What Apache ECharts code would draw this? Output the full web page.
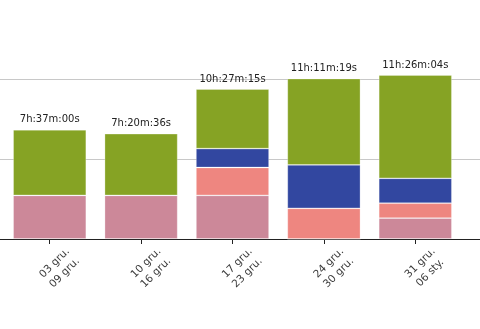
<!DOCTYPE html>
<html>
<head>
<meta charset="utf-8">
<script src="https://cdn.jsdelivr.net/npm/echarts@6/dist/echarts.min.js"></script>
<style>
  html, body { margin: 0; padding: 0; background: #ffffff; }
  #chart { width: 480px; height: 329px; }
</style>
</head>
<body>
<div id="chart"></div>
<script>
// Weekly time totals, in seconds, split into four activity groups.
const weeks = ['03 gru.\n09 gru.', '10 gru.\n16 gru.', '17 gru.\n23 gru.', '24 gru.\n30 gru.', '31 gru.\n06 sty.'];
const totals = [27420, 26436, 37635, 40279, 41164];
const pinkPart = [10950, 10950, 10950, 0, 5240];
const salmonPart = [0, 0, 7000, 7700, 3750];
const bluePart = [0, 0, 4750, 10900, 6250];
// the top (green) segment fills each bar up to its labelled total
const greenPart = totals.map((t, i) => t - pinkPart[i] - salmonPart[i] - bluePart[i]);

// horizontal reference lines across the whole plot
const gridLevels = [20000, 40000];
const yMax = 60000;
const yStep = 20000;

function pad2(n) { return (n < 10 ? '0' : '') + n; }
function hms(sec) {
  const h = Math.floor(sec / 3600);
  const m = Math.floor((sec % 3600) / 60);
  const s = sec % 60;
  return h + 'h:' + pad2(m) + 'm:' + pad2(s) + 's';
}

const chart = echarts.init(document.getElementById('chart'), null, { renderer: 'canvas' });

const segStyle = (color) => ({
  color: color,
  borderColor: 'rgba(255,255,255,0.35)',
  borderWidth: 0.8
});

const axisColor = '#222222';

chart.setOption({
  animation: false,
  backgroundColor: '#ffffff',
  textStyle: { fontFamily: 'DejaVu Sans' },
  grid: [
    { left: 0, right: 0, top: -1, bottom: 90 },
    { left: 4, right: 19, top: -1, bottom: 90 }
  ],
  xAxis: [
    {
      gridIndex: 0, type: 'category', data: weeks, z: 0,
      axisLine: { show: true, lineStyle: { color: axisColor, width: 1 } },
      axisTick: { show: false }, axisLabel: { show: false }, splitLine: { show: false }
    },
    {
      gridIndex: 1, type: 'category', data: weeks,
      axisLine: { show: true, lineStyle: { color: axisColor, width: 1 } },
      axisTick: { show: true, alignWithLabel: true, interval: 0, length: 5, lineStyle: { color: axisColor, width: 1 } },
      axisLabel: {
        show: true, interval: 0, rotate: 45, margin: 19,
        align: 'center', verticalAlign: 'top',
        fontSize: 10.5, lineHeight: 14, color: '#3a3a3a', fontFamily: 'DejaVu Sans'
      }
    }
  ],
  yAxis: [
    {
      gridIndex: 0, type: 'value', min: 0, max: yMax, interval: yStep,
      axisLine: { show: false }, axisTick: { show: false }, axisLabel: { show: false },
      splitLine: { show: false }
    },
    {
      gridIndex: 1, type: 'value', min: 0, max: yMax, interval: yStep,
      axisLine: { show: false }, axisTick: { show: false }, axisLabel: { show: false },
      splitLine: { show: false }
    }
  ],
  series: [
    { name: 'grid', type: 'line', xAxisIndex: 0, yAxisIndex: 0, data: [], silent: true, z: 0,
      markLine: {
        silent: true, symbol: 'none', label: { show: false }, z: 0,
        lineStyle: { color: '#c8c8c8', width: 1, type: 'solid' },
        data: gridLevels.map((v) => ({ yAxis: v }))
      }
    },
    { name: 'pink', type: 'bar', stack: 't', xAxisIndex: 1, yAxisIndex: 1, barWidth: '80%', z: 3,
      data: pinkPart, itemStyle: segStyle('#cc8899') },
    { name: 'salmon', type: 'bar', stack: 't', xAxisIndex: 1, yAxisIndex: 1, barWidth: '80%', z: 3,
      data: salmonPart, itemStyle: segStyle('#ee8680') },
    { name: 'blue', type: 'bar', stack: 't', xAxisIndex: 1, yAxisIndex: 1, barWidth: '80%', z: 3,
      data: bluePart, itemStyle: segStyle('#3247a0') },
    { name: 'green', type: 'bar', stack: 't', xAxisIndex: 1, yAxisIndex: 1, barWidth: '80%', z: 3,
      data: greenPart, itemStyle: segStyle('#86a324'),
      label: {
        show: true, position: 'top', distance: 5,
        fontSize: 10, color: '#222222', fontFamily: 'DejaVu Sans',
        formatter: (p) => hms(totals[p.dataIndex])
      }
    }
  ]
});
</script>
</body>
</html>
